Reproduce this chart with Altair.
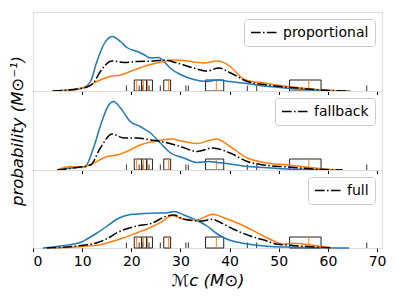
import altair as alt
import pandas as pd

# ---------------- data ----------------
x_ticks = [0, 10, 20, 30, 40, 50, 60, 70]
model_labels = ["proportional", "fallback", "full"]

# panel 1 (proportional)
p1_blue_x = [4, 5.5, 8, 10.3, 11.7, 13, 14.4, 16.1, 17.8, 19.1, 21.2, 22.5, 23.9, 25.6, 26.6, 28, 30, 32.7, 35.4, 37.5, 40.1, 43.6, 47, 50.3, 53.8, 58.5, 64.6]
p1_blue_y = [0, 0.0003, 0.001, 0.0035, 0.0095, 0.0295, 0.0465, 0.0545, 0.0495, 0.0435, 0.0395, 0.0365, 0.033, 0.0335, 0.0295, 0.0225, 0.0165, 0.0115, 0.0095, 0.011, 0.0095, 0.0075, 0.005, 0.0035, 0.002, 0.0008, 0]
p1_orange_x = [4, 6, 8.9, 11, 13, 15.7, 17.8, 20.5, 23.2, 26.6, 28.7, 31.4, 33.4, 34.8, 37.5, 40.1, 41.5, 42.5, 43.6, 47, 50.3, 53.8, 56.5, 59.2, 62, 64]
p1_orange_y = [0, 0.0005, 0.002, 0.0045, 0.0095, 0.0145, 0.016, 0.021, 0.0255, 0.0295, 0.031, 0.030, 0.0285, 0.028, 0.030, 0.0245, 0.018, 0.013, 0.0105, 0.008, 0.0055, 0.0035, 0.002, 0.001, 0.0003, 0]
p1_black_x = [4, 6, 9, 11, 12.3, 13.7, 16.1, 18.5, 21.2, 24.6, 26.6, 29.3, 32.7, 35.4, 37.8, 40.2, 43.6, 47, 50.3, 53.8, 58.5, 64]
p1_black_y = [0, 0.0005, 0.002, 0.004, 0.008, 0.0195, 0.030, 0.0285, 0.0295, 0.030, 0.031, 0.028, 0.023, 0.020, 0.023, 0.018, 0.0095, 0.0065, 0.0045, 0.003, 0.001, 0]

# panel 2 (fallback)
p2_blue_x = [4.9, 7.6, 8.9, 10.6, 12.3, 14, 15.4, 16.4, 17.8, 19.8, 21.8, 23.9, 25.9, 28, 30.7, 33.4, 35.8, 37.5, 40.1, 43.6, 47, 51, 56.5, 60.5]
p2_blue_y = [0, 0.002, 0.0025, 0.0035, 0.022, 0.0485, 0.065, 0.0685, 0.062, 0.0485, 0.0435, 0.037, 0.027, 0.017, 0.012, 0.0075, 0.0085, 0.0075, 0.006, 0.0035, 0.0025, 0.0012, 0.0005, 0]
p2_orange_x = [4.9, 7.6, 10, 12.3, 15.1, 17.1, 19.1, 21.8, 24.6, 28, 30.7, 33.4, 36.1, 37.3, 40.1, 43.6, 47, 51.7, 56.5, 60.5, 63]
p2_orange_y = [0, 0.0035, 0.0025, 0.007, 0.0135, 0.015, 0.0185, 0.025, 0.0285, 0.031, 0.0285, 0.0265, 0.030, 0.031, 0.0235, 0.012, 0.0075, 0.005, 0.0025, 0.0005, 0]
p2_black_x = [4.9, 8.9, 11.7, 13.7, 16.1, 18.5, 21.2, 23.9, 26.6, 30, 33.4, 36.5, 40.1, 43.6, 47, 51.7, 56.5, 60.5, 63]
p2_black_y = [0, 0.0025, 0.005, 0.022, 0.036, 0.032, 0.032, 0.030, 0.028, 0.0235, 0.0185, 0.022, 0.017, 0.0085, 0.005, 0.003, 0.0012, 0.0003, 0]

# panel 3 (full)
p3_blue_x = [2, 5.6, 9.6, 11, 13, 15.1, 17.1, 19.8, 22.5, 25.3, 26.9, 28.7, 30.7, 32.7, 35.4, 37.5, 39.5, 42.2, 45.6, 49, 52.4, 55.8, 60, 64.3]
p3_blue_y = [0, 0.002, 0.0055, 0.009, 0.015, 0.022, 0.029, 0.0335, 0.0345, 0.035, 0.035, 0.0365, 0.033, 0.029, 0.022, 0.014, 0.0087, 0.0053, 0.0027, 0.0013, 0.0008, 0.0005, 0.0002, 0]
p3_orange_x = [4.2, 8.9, 11, 13, 15.7, 18.5, 21.2, 23.9, 25.9, 28.3, 30.7, 33.4, 35.4, 36.6, 38.8, 42.2, 45.6, 49, 51, 53, 55.8, 58, 61]
p3_orange_y = [0, 0.001, 0.002, 0.0027, 0.006, 0.0103, 0.0153, 0.0205, 0.0253, 0.0325, 0.0287, 0.0283, 0.032, 0.0337, 0.0303, 0.0237, 0.0153, 0.007, 0.0037, 0.0047, 0.0035, 0.002, 0]
p3_black_x = [2.8, 8.9, 13, 15.7, 17.1, 19.8, 21.2, 23.9, 27.3, 28.7, 30.7, 34, 36.6, 37.5, 40.8, 44.2, 47.6, 49.7, 52.4, 55.8, 61]
p3_black_y = [0, 0.002, 0.0053, 0.011, 0.0153, 0.0203, 0.022, 0.0243, 0.032, 0.033, 0.0287, 0.027, 0.0287, 0.027, 0.0187, 0.012, 0.007, 0.0037, 0.0027, 0.0015, 0]

# observed events (same in every panel)
box_lo = [20.6, 22.1, 23.1, 26.6, 35.1, 52.2]
box_hi = [22.1, 23.1, 24.3, 28.0, 38.8, 58.6]
box_top = [0.011, 0.011, 0.011, 0.011, 0.011, 0.011]
orange_events = [21.1, 22.5, 23.3, 27.6, 37.3, 56.1]
black_events = [19.0, 21.6, 22.2, 23.6, 25.9, 31.1, 31.6, 43.6, 45.5, 67.9]
tick_top = 0.0055

BLUE = "#1f77b4"
ORANGE = "#ff7f0e"
FONT = "DejaVu Sans"
PANEL_W = 349


def make_x(bottom):
    if bottom:
        ax = alt.Axis(values=x_ticks, title="ℳc (M⊙)", titleFontSize=16.5, titleFontWeight="normal",
                      titleFontStyle="italic", titleColor="black", titlePadding=4, labelFontSize=14,
                      labelColor="black", labelPadding=3, tickSize=3.5, tickColor="black",
                      domain=False, grid=False, labelFont=FONT, titleFont=FONT)
    else:
        ax = alt.Axis(values=x_ticks, title=None, labels=False, tickSize=3.5, tickColor="black",
                      domain=False, grid=False)
    return ax


def panel(bx, by, ox, oy, kx, ky, label, bottom, middle, ymax, h):
    xs = alt.Scale(domain=[0, 71], nice=False, zero=False)
    ys = alt.Scale(domain=[0, ymax], nice=False)
    xax = make_x(bottom)
    if middle:
        yax = alt.Axis(labels=False, ticks=False, domain=False, grid=False,
                       title="probability (M⊙⁻¹)", titleFontSize=16.5, titleFontWeight="normal",
                       titleFontStyle="italic", titleColor="black", titlePadding=8, titleFont=FONT)
    else:
        yax = alt.Axis(labels=False, ticks=False, domain=False, grid=False, title=None)

    def X(f="x"):
        return alt.X(f"{f}:Q", scale=xs, axis=xax)

    def Y(f="y"):
        return alt.Y(f"{f}:Q", scale=ys, axis=yax)

    boxes = pd.DataFrame({"lo": box_lo, "hi": box_hi, "b": [0] * len(box_lo), "t": box_top})
    oev = pd.DataFrame({"x": orange_events, "b": 0.0, "t": box_top[0]})
    kev = pd.DataFrame({"x": black_events, "b": 0.0, "t": tick_top})

    rects = alt.Chart(boxes).mark_rect(fill=None, stroke="#222222", strokeWidth=1).encode(
        x=X("lo"), x2="hi:Q", y=Y("b"), y2="t:Q")
    orules = alt.Chart(oev).mark_rule(color=ORANGE, strokeWidth=1).encode(x=X(), y=Y("b"), y2="t:Q")
    krules = alt.Chart(kev).mark_rule(color="#333333", strokeWidth=1).encode(x=X(), y=Y("b"), y2="t:Q")

    blue = alt.Chart(pd.DataFrame({"x": bx, "y": by})).mark_line(
        color=BLUE, strokeWidth=1.5, interpolate="monotone").encode(x=X(), y=Y())
    orange = alt.Chart(pd.DataFrame({"x": ox, "y": oy})).mark_line(
        color=ORANGE, strokeWidth=1.5, interpolate="monotone").encode(x=X(), y=Y())
    black = alt.Chart(pd.DataFrame({"x": kx, "y": ky, "model": label})).mark_line(
        color="black", strokeWidth=1.5, interpolate="monotone").encode(
        x=X(), y=Y(),
        strokeDash=alt.StrokeDash("model:N",
                                  scale=alt.Scale(domain=[label], range=[[9.6, 2.4, 1.5, 2.4]]),
                                  legend=alt.Legend(title=None, orient="top-right", offset=7,
                                                    fillColor="rgba(255,255,255,0.85)",
                                                    strokeColor="#cccccc", cornerRadius=3,
                                                    padding=6, labelFont=FONT, labelFontSize=14,
                                                    labelColor="black", symbolType="M-2,0H2",
                                                    symbolSize=182, symbolStrokeWidth=1.5,
                                                    symbolFillColor="transparent",
                                                    symbolStrokeColor="black", symbolOffset=7,
                                                    labelOffset=11)))
    return alt.layer(rects, orules, krules, blue, orange, black).properties(width=PANEL_W, height=h)


c1 = panel(p1_blue_x, p1_blue_y, p1_orange_x, p1_orange_y, p1_black_x, p1_black_y,
           model_labels[0], False, False, 0.079, 79)
c2 = panel(p2_blue_x, p2_blue_y, p2_orange_x, p2_orange_y, p2_black_x, p2_black_y,
           model_labels[1], False, True, 0.079, 79)
c3 = panel(p3_blue_x, p3_blue_y, p3_orange_x, p3_orange_y, p3_black_x, p3_black_y,
           model_labels[2], True, False, 0.078, 78)

chart = alt.vconcat(c1, c2, c3, spacing=0, bounds="flush").resolve_scale(
    strokeDash="independent", y="independent").resolve_legend(strokeDash="independent").properties(
    padding={"left": 0, "top": 3, "right": 0, "bottom": 5}
).configure_view(stroke="black", strokeWidth=1).configure(font=FONT)

chart.save("out.html", embed_options={"renderer": "svg", "actions": False})
